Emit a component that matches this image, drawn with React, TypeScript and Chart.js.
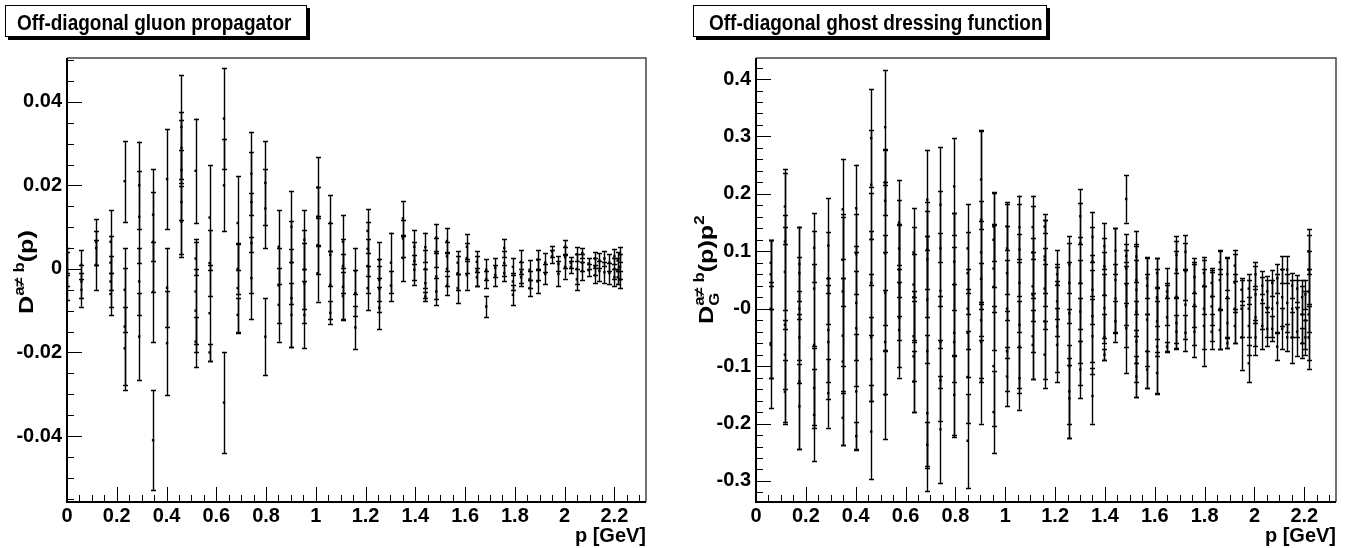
import React, { useEffect, useRef } from 'react';
import { Chart, registerables } from 'chart.js';

Chart.register(...registerables);

const FONT = "'Liberation Sans', Arial, Helvetica, sans-serif";

// ---------- axis ticks ----------
const xTickValues = [0, 0.2, 0.4, 0.6, 0.8, 1, 1.2, 1.4, 1.6, 1.8, 2, 2.2];
const xTickLabels = ['0', '0.2', '0.4', '0.6', '0.8', '1', '1.2', '1.4', '1.6', '1.8', '2', '2.2'];
const gluonYTickValues = [-0.04, -0.02, 0, 0.02, 0.04];
const gluonYTickLabels = ['-0.04', '-0.02', '0', '0.02', '0.04'];
const ghostYTickValues = [-0.3, -0.2, -0.1, 0, 0.1, 0.2, 0.3, 0.4];
const ghostYTickLabels = ['-0.3', '-0.2', '-0.1', '-0', '0.1', '0.2', '0.3', '0.4'];

// ---------- off-diagonal gluon propagator ----------
const gluonMomenta = [
  0, 0.058, 0.117, 0.175, 0.232, 0.29, 0.346, 0.402, 0.46, 0.517, 0.573, 0.631, 0.686, 0.741,
  0.797, 0.851, 0.902, 0.954, 1.007, 1.058, 1.109, 1.159, 1.208, 1.255, 1.302, 1.35, 1.396,
  1.44, 1.484, 1.527, 1.57, 1.607, 1.647, 1.685, 1.721, 1.757, 1.792, 1.825, 1.859, 1.891,
  1.922, 1.949, 1.975, 2.002, 2.025, 2.049, 2.071, 2.096, 2.122, 2.14, 2.16, 2.18, 2.2, 2.213, 2.223,
];
const gluonValues = [
  [0.0, -0.0045, 0.002],
  [0.001, -0.003, -0.005],
  [0.0065, 0.005, 0.001],
  [0.0065, 0.0015, -0.003, -0.006],
  [0.021, -0.005, -0.0138, -0.019],
  [0.02, 0.0125, -0.003, -0.0162],
  [0.013, 0.0065, -0.0055, -0.041],
  [0.0215, -0.0045, -0.0178],
  [0.034, 0.029, 0.0237, 0.016, 0.0113],
  [0.0235, 0.0025, -0.0054, -0.01, -0.0174],
  [0.0123, 0.0014, -0.0106, -0.02],
  [0.036, 0.02, -0.032],
  [0.011, 0.0, -0.0046, -0.011],
  [0.0228, 0.016, 0.0062, -0.0022],
  [0.0206, 0.0145, -0.0162],
  [0.0053, -0.004, -0.0086],
  [0.0101, 0.0015, -0.007, -0.011],
  [0.007, -0.0002, -0.0034, -0.011],
  [0.0195, 0.0125, 0.0057, -0.001],
  [0.011, 0.0034, -0.0038, -0.0105],
  [0.0065, 0.0007, -0.0043, -0.0065],
  [-0.0005, -0.0058, -0.014],
  [0.0091, 0.0048, 0.0007, -0.0046],
  [0.0022, -0.0026, -0.0048, -0.0093],
  [0.0015, -0.004],
  [0.0121, 0.0073, 0.0026],
  [0.0053, 0.0019, -0.0002],
  [0.0052, 0.0, -0.0034, -0.0066],
  [0.0075, 0.0039, -0.0018, -0.0054],
  [0.0067, 0.003, 0.0, -0.004],
  [0.0015, -0.001, -0.0046],
  [0.0053, 0.0026, -0.0015],
  [0.0017, -0.0005, -0.002],
  [-0.0002, -0.0025, -0.009],
  [0.0003, -0.0015],
  [0.005, 0.0014, -0.001],
  [0.0005, -0.003, -0.0062],
  [0.0017, -0.0008, -0.002],
  [-0.0002, -0.0025, -0.0046],
  [0.0022, -0.0002, -0.003],
  [0.0015, -0.0012],
  [0.0042, 0.003],
  [0.0012, -0.0012],
  [0.0053, 0.0028, 0.0005],
  [0.0015, 0.0005],
  [0.0035, 0.0, -0.0025],
  [0.0038, 0.0015, -0.0005],
  [0.0013, -0.0003],
  [0.0025, 0.0005, -0.0015],
  [0.002, -0.0005],
  [0.0025, -0.0008],
  [0.0015, -0.001],
  [0.003, 0.0, -0.002],
  [0.002, -0.0005, -0.002],
  [0.0035, 0.0005, -0.0025],
];
const gluonErrors = [
  [0.004, 0.003, 0.003],
  [0.0035, 0.004, 0.004],
  [0.0055, 0.004, 0.006],
  [0.0075, 0.0065, 0.006, 0.005],
  [0.0097, 0.01, 0.014, 0.01],
  [0.0105, 0.011, 0.008, 0.0104],
  [0.011, 0.012, 0.012, 0.012],
  [0.012, 0.0095, 0.0125],
  [0.0125, 0.0085, 0.012, 0.0125, 0.0085],
  [0.0125, 0.004, 0.0125, 0.01, 0.006],
  [0.0125, 0.008, 0.0115, 0.002],
  [0.012, 0.011, 0.012],
  [0.0112, 0.006, 0.0107, 0.004],
  [0.0099, 0.012, 0.012, 0.0098],
  [0.01, 0.0095, 0.0092],
  [0.0088, 0.009, 0.0088],
  [0.0085, 0.01, 0.0118, 0.0076],
  [0.007, 0.0095, 0.0095, 0.008],
  [0.0072, 0.007, 0.007, 0.0068],
  [0.0067, 0.0075, 0.0082, 0.0028],
  [0.0063, 0.0065, 0.0078, 0.0057],
  [0.0055, 0.0055, 0.0052],
  [0.0052, 0.0065, 0.0065, 0.0052],
  [0.0043, 0.005, 0.0055, 0.005],
  [0.0072, 0.0036],
  [0.0042, 0.0045, 0.0056],
  [0.004, 0.0045, 0.0036],
  [0.0035, 0.0045, 0.0035, 0.001],
  [0.0033, 0.0035, 0.0055, 0.0032],
  [0.003, 0.0035, 0.004, 0.0022],
  [0.0028, 0.004, 0.0035],
  [0.003, 0.0035, 0.0035],
  [0.0025, 0.0035, 0.0022],
  [0.0025, 0.002, 0.0026],
  [0.0023, 0.0025],
  [0.0022, 0.003, 0.002],
  [0.002, 0.002, 0.0024],
  [0.0028, 0.0025, 0.002],
  [0.0024, 0.002, 0.002],
  [0.0023, 0.0025, 0.0027],
  [0.0023, 0.0025],
  [0.0013, 0.0015],
  [0.0018, 0.003],
  [0.0017, 0.0025, 0.0028],
  [0.0013, 0.0015],
  [0.0017, 0.0035, 0.0025],
  [0.0012, 0.002, 0.0022],
  [0.0012, 0.0015],
  [0.0016, 0.002, 0.0018],
  [0.0017, 0.0025],
  [0.0017, 0.0025],
  [0.002, 0.0025],
  [0.0017, 0.0025, 0.002],
  [0.002, 0.003, 0.0015],
  [0.0018, 0.003, 0.002],
];

// ---------- off-diagonal ghost dressing function ----------
const ghostMomenta = [
  0.059, 0.116, 0.174, 0.233, 0.29, 0.348, 0.402, 0.462, 0.518, 0.574, 0.632, 0.687, 0.74,
  0.795, 0.849, 0.903, 0.953, 1.007, 1.057, 1.11, 1.158, 1.208, 1.257, 1.301, 1.35, 1.398,
  1.442, 1.485, 1.526, 1.569, 1.609, 1.649, 1.687, 1.723, 1.759, 1.797, 1.828, 1.861, 1.891,
  1.921, 1.948, 1.977, 2.004, 2.031, 2.051, 2.071, 2.091, 2.111, 2.131, 2.151, 2.171, 2.191,
  2.204, 2.217,
];
const ghostValues = [
  [0.06, 0.0, -0.06, -0.063, 0.08],
  [0.178, 0.117, 0.064, -0.028, -0.08, -0.145],
  [0.078, 0.062, 0.0, -0.05, -0.127, -0.17],
  [0.106, 0.035, -0.063, -0.138, -0.185],
  [0.11, 0.053, -0.037, -0.058, -0.147],
  [0.173, 0.085, 0.03, -0.047, -0.092, -0.19],
  [0.175, 0.095, 0.01, -0.034, -0.144, -0.222],
  [0.297, 0.216, 0.121, 0.045, -0.05, -0.088, -0.214],
  [0.316, 0.22, 0.188, 0.096, 0.028, -0.058, -0.15],
  [0.15, 0.105, 0.068, 0.045, -0.016, -0.037],
  [0.098, 0.042, 0.02, -0.048, -0.083, -0.127],
  [0.19, 0.103, 0.086, 0.016, -0.074, -0.182, -0.237],
  [0.181, 0.105, 0.031, -0.058, -0.125, -0.21],
  [0.213, 0.082, 0.042, -0.042, -0.058, -0.15],
  [0.105, 0.062, 0.0, -0.042, -0.119, -0.23],
  [0.225, 0.155, 0.098, 0.052, -0.02, -0.058, -0.127],
  [0.143, 0.12, 0.07, 0.038, -0.1, -0.18],
  [0.143, 0.105, 0.062, 0.0, -0.074, -0.118],
  [0.142, 0.103, 0.045, -0.028, -0.066, -0.121],
  [0.142, 0.098, 0.039, 0.024, -0.048, -0.063],
  [0.143, 0.091, 0.085, 0.035, -0.022, -0.08],
  [0.06, 0.042, 0.013, -0.031, -0.063],
  [0.077, 0.045, -0.008, -0.1, -0.144, -0.156],
  [0.161, 0.114, 0.045, -0.005, -0.057, -0.106],
  [0.125, 0.082, 0.033, -0.013, -0.048, -0.152],
  [0.109, 0.074, 0.024, 0.001, -0.049, -0.08],
  [0.101, 0.05, 0.018, -0.022],
  [0.191, 0.092, 0.07, 0.042, 0.004, -0.034],
  [0.091, 0.05, 0.033, -0.005, -0.057, -0.095, -0.118],
  [0.053, 0.04, -0.019, -0.074, -0.106],
  [0.062, 0.02, 0.018, -0.022, -0.066, -0.112],
  [0.03, 0.021, -0.015, -0.066],
  [0.094, 0.068, 0.021, -0.025, -0.04],
  [0.099, 0.065, 0.007, -0.042],
  [0.055, 0.028, 0.007, -0.04],
  [0.062, 0.04, 0.0, -0.03],
  [0.045, 0.021, 0.004, -0.04],
  [0.081, 0.05, 0.0, -0.037],
  [0.06, 0.02, -0.025, -0.06],
  [0.075, 0.045, 0.0, -0.03],
  [0.033, 0.0, -0.05],
  [0.035, 0.0, -0.03, -0.095],
  [0.06, 0.025, -0.015, -0.05],
  [0.04, 0.015, -0.03],
  [0.03, 0.0, -0.035],
  [0.045, 0.0, -0.035],
  [0.053, 0.01, -0.066],
  [0.068, 0.02, -0.035],
  [0.068, 0.01, -0.05],
  [0.04, 0.0, -0.05],
  [0.035, 0.0, -0.04],
  [0.02, -0.01, -0.06],
  [0.025, -0.02, -0.05],
  [0.1, 0.068, 0.03, -0.01, -0.05],
];
const ghostErrors = [
  [0.06, 0.12, 0.06, 0.11, 0.04],
  [0.065, 0.12, 0.1, 0.17, 0.06, 0.055],
  [0.065, 0.08, 0.09, 0.08, 0.117, 0.074],
  [0.06, 0.1, 0.14, 0.07, 0.08],
  [0.082, 0.08, 0.09, 0.1, 0.06],
  [0.087, 0.08, 0.13, 0.1, 0.145, 0.047],
  [0.076, 0.07, 0.1, 0.1, 0.1, 0.024],
  [0.085, 0.095, 0.08, 0.09, 0.11, 0.073, 0.082],
  [0.1, 0.057, 0.09, 0.125, 0.1, 0.09, 0.077],
  [0.074, 0.085, 0.08, 0.1, 0.085, 0.083],
  [0.078, 0.1, 0.075, 0.078, 0.097, 0.053],
  [0.087, 0.068, 0.1, 0.11, 0.2, 0.136, 0.04],
  [0.1, 0.1, 0.1, 0.08, 0.07, 0.093],
  [0.084, 0.085, 0.125, 0.085, 0.165, 0.07],
  [0.077, 0.072, 0.07, 0.077, 0.08, 0.082],
  [0.086, 0.155, 0.09, 0.1, 0.1, 0.07, 0.073],
  [0.06, 0.082, 0.075, 0.11, 0.105, 0.072],
  [0.04, 0.08, 0.082, 0.085, 0.07, 0.052],
  [0.055, 0.08, 0.085, 0.11, 0.08, 0.055],
  [0.055, 0.08, 0.06, 0.1, 0.075, 0.06],
  [0.012, 0.064, 0.08, 0.07, 0.1, 0.058],
  [0.018, 0.06, 0.06, 0.08, 0.064],
  [0.05, 0.07, 0.09, 0.1, 0.081, 0.07],
  [0.048, 0.07, 0.08, 0.09, 0.075, 0.05],
  [0.043, 0.06, 0.06, 0.08, 0.065, 0.048],
  [0.04, 0.05, 0.075, 0.06, 0.04, 0.01],
  [0.04, 0.09, 0.06, 0.036],
  [0.041, 0.01, 0.06, 0.07, 0.07, 0.078],
  [0.044, 0.06, 0.08, 0.09, 0.07, 0.058, 0.035],
  [0.035, 0.05, 0.08, 0.064, 0.032],
  [0.026, 0.05, 0.07, 0.06, 0.08, 0.036],
  [0.012, 0.05, 0.06, 0.008],
  [0.032, 0.05, 0.08, 0.045, 0.029],
  [0.03, 0.05, 0.06, 0.031],
  [0.027, 0.06, 0.07, 0.044],
  [0.023, 0.05, 0.07, 0.07],
  [0.022, 0.05, 0.06, 0.03],
  [0.021, 0.05, 0.07, 0.034],
  [0.028, 0.07, 0.044, 0.009],
  [0.027, 0.05, 0.06, 0.03],
  [0.02, 0.05, 0.056],
  [0.026, 0.05, 0.05, 0.032],
  [0.021, 0.05, 0.05, 0.03],
  [0.015, 0.05, 0.04],
  [0.027, 0.05, 0.03],
  [0.023, 0.05, 0.022],
  [0.025, 0.05, 0.023],
  [0.023, 0.05, 0.036],
  [0.023, 0.05, 0.024],
  [0.022, 0.05, 0.045],
  [0.024, 0.05, 0.043],
  [0.03, 0.05, 0.026],
  [0.025, 0.05, 0.03],
  [0.039, 0.06, 0.07, 0.08, 0.055],
];

type Pt = { x: number; y: number };

function flatten(momenta: number[], values: number[][], errors: number[][]) {
  const pts: Pt[] = [];
  const errs: number[] = [];
  momenta.forEach((p, i) => {
    values[i].forEach((v, j) => {
      pts.push({ x: p, y: v });
      errs.push(errors[i][j]);
    });
  });
  return { pts, errs };
}

const errorBarPlugin = {
  id: 'errorBars',
  beforeDatasetsDraw(chart: any) {
    const { ctx, chartArea: ca } = chart;
    const xs = chart.scales.x;
    const ys = chart.scales.y;
    ctx.save();
    ctx.beginPath();
    ctx.rect(ca.left, ca.top, ca.right - ca.left, ca.bottom - ca.top);
    ctx.clip();
    ctx.strokeStyle = '#000';
    ctx.lineWidth = 1.4;
    chart.data.datasets.forEach((ds: any) => {
      const errs: number[] = ds.errors;
      if (!errs) return;
      ds.data.forEach((pt: Pt, i: number) => {
        const e = errs[i];
        const px = Math.round(xs.getPixelForValue(pt.x)) + 0.5;
        const top = ys.getPixelForValue(pt.y + e);
        const bot = ys.getPixelForValue(pt.y - e);
        ctx.beginPath();
        ctx.moveTo(px, top);
        ctx.lineTo(px, bot);
        ctx.moveTo(px - 2.5, Math.round(top) + 0.5);
        ctx.lineTo(px + 2.5, Math.round(top) + 0.5);
        ctx.moveTo(px - 2.5, Math.round(bot) + 0.5);
        ctx.lineTo(px + 2.5, Math.round(bot) + 0.5);
        ctx.stroke();
      });
    });
    ctx.restore();
  },
};

type TitlePart = { t: string; size: number; dy: number; sub?: string };

const rootStylePlugin = {
  id: 'rootStyle',
  afterDraw(chart: any, _args: any, opts: any) {
    const { ctx, chartArea: ca } = chart;
    const xs = chart.scales.x;
    const ys = chart.scales.y;
    ctx.save();
    ctx.strokeStyle = '#000';
    ctx.lineWidth = 1;
    const xTick = (v: number, len: number) => {
      const px = Math.round(xs.getPixelForValue(v)) + 0.5;
      ctx.beginPath();
      ctx.moveTo(px, ca.bottom);
      ctx.lineTo(px, ca.bottom - len);
      ctx.stroke();
    };
    const yTick = (v: number, len: number) => {
      const py = Math.round(ys.getPixelForValue(v)) + 0.5;
      ctx.beginPath();
      ctx.moveTo(ca.left, py);
      ctx.lineTo(ca.left + len, py);
      ctx.stroke();
    };
    const xs0 = Math.ceil(xs.min / opts.xMinor - 1e-6);
    const xs1 = Math.floor(xs.max / opts.xMinor + 1e-6);
    for (let k = xs0; k <= xs1; k++) xTick(k * opts.xMinor, 7);
    xTickValues.forEach((v) => xTick(v, 15));
    const ys0 = Math.ceil(ys.min / opts.yMinor - 1e-6);
    const ys1 = Math.floor(ys.max / opts.yMinor + 1e-6);
    for (let k = ys0; k <= ys1; k++) yTick(k * opts.yMinor, 7);
    (opts.yMajor as number[]).forEach((v) => yTick(v, 15));

    // frame
    ctx.strokeStyle = '#444';
    ctx.lineWidth = 1.5;
    ctx.beginPath();
    ctx.moveTo(ca.left, ca.top);
    ctx.lineTo(ca.right, ca.top);
    ctx.lineTo(ca.right, ca.bottom);
    ctx.stroke();
    ctx.strokeStyle = '#000';
    ctx.lineWidth = 2;
    ctx.beginPath();
    ctx.moveTo(ca.left, ca.top);
    ctx.lineTo(ca.left, ca.bottom);
    ctx.lineTo(ca.right, ca.bottom);
    ctx.stroke();

    // title box with shadow
    const b = opts.box;
    ctx.fillStyle = '#000';
    ctx.fillRect(b.x + 3, b.y + 3, b.w, b.h);
    ctx.fillStyle = '#fff';
    ctx.fillRect(b.x, b.y, b.w, b.h);
    ctx.strokeStyle = '#000';
    ctx.lineWidth = 1;
    ctx.strokeRect(b.x + 0.5, b.y + 0.5, b.w - 1, b.h - 1);
    ctx.fillStyle = '#000';
    ctx.textBaseline = 'alphabetic';
    ctx.textAlign = 'left';
    ctx.font = `bold 19px ${FONT}`;
    ctx.save();
    ctx.translate(b.tx, b.ty);
    ctx.scale(1, 1.16);
    ctx.fillText(opts.title, 0, 0);
    ctx.restore();

    // rotated y title
    ctx.save();
    ctx.translate(opts.yTitleX, opts.yTitleY);
    ctx.rotate(-Math.PI / 2);
    ctx.scale(1.2, 1);
    let x = 0;
    (opts.yTitle as TitlePart[]).forEach((p) => {
      ctx.font = `bold ${p.size}px ${FONT}`;
      ctx.fillText(p.t, x, p.dy);
      let w = ctx.measureText(p.t).width;
      if (p.sub) {
        ctx.fillText(p.sub, x, 6);
        w = Math.max(w, ctx.measureText(p.sub).width);
      }
      x += w;
    });
    ctx.restore();
    ctx.restore();
  },
};

Chart.register(errorBarPlugin, rootStylePlugin);

type PanelProps = {
  left: number;
  momenta: number[];
  values: number[][];
  errors: number[][];
  yMin: number;
  yMax: number;
  yTicks: number[];
  yLabels: string[];
  yMinor: number;
  yAxisWidth: number;
  padRight: number;
  title: string;
  box: { x: number; y: number; w: number; h: number; tx: number; ty: number };
  yTitle: TitlePart[];
  yTitleX: number;
  yTitleY: number;
};

function Panel(props: PanelProps) {
  const ref = useRef<HTMLCanvasElement | null>(null);
  useEffect(() => {
    if (!ref.current) return;
    const { pts, errs } = flatten(props.momenta, props.values, props.errors);
    const tickFont = { family: FONT, size: 20, weight: 'bold' as const };
    const chart = new Chart(ref.current, {
      type: 'scatter',
      data: {
        datasets: [
          {
            data: pts,
            errors: errs,
            pointRadius: 1.7,
            pointStyle: 'rect',
            pointBackgroundColor: '#000',
            pointBorderWidth: 0,
            showLine: false,
          } as any,
        ],
      },
      options: {
        responsive: false,
        animation: false,
        events: [],
        layout: { padding: { left: 0, right: props.padRight, top: 58, bottom: 0 } },
        plugins: {
          legend: { display: false },
          tooltip: { enabled: false },
          rootStyle: {
            xMinor: 0.05,
            yMinor: props.yMinor,
            yMajor: props.yTicks,
            title: props.title,
            box: props.box,
            yTitle: props.yTitle,
            yTitleX: props.yTitleX,
            yTitleY: props.yTitleY,
          },
        } as any,
        scales: {
          x: {
            type: 'linear',
            min: 0,
            max: 2.327,
            afterBuildTicks: (s: any) => {
              s.ticks = xTickValues.map((v) => ({ value: v }));
            },
            afterFit: (s: any) => {
              s.height = 46;
            },
            grid: { display: false, drawTicks: false },
            border: { display: false },
            ticks: {
              callback: (_v: any, i: number) => xTickLabels[i],
              font: tickFont,
              color: '#000',
              padding: 2,
              autoSkip: false,
              maxRotation: 0,
            },
            title: {
              display: true,
              text: 'p [GeV]',
              align: 'end',
              color: '#000',
              font: { family: FONT, size: 20, weight: 'bold' },
              padding: { top: 0, bottom: 0 },
            },
          },
          y: {
            type: 'linear',
            min: props.yMin,
            max: props.yMax,
            afterBuildTicks: (s: any) => {
              s.ticks = props.yTicks.map((v) => ({ value: v }));
            },
            afterFit: (s: any) => {
              s.width = props.yAxisWidth;
            },
            grid: { display: false, drawTicks: false },
            border: { display: false },
            ticks: {
              callback: (_v: any, i: number) => props.yLabels[i],
              font: tickFont,
              color: '#000',
              padding: 5,
              autoSkip: false,
            },
          },
        },
      } as any,
    });
    return () => chart.destroy();
  }, []);
  return (
    <canvas
      ref={ref}
      width={677}
      height={548}
      style={{ position: 'absolute', left: props.left, top: 0, width: 677, height: 548 }}
    />
  );
}

export default function App() {
  return (
    <div
      style={{
        position: 'fixed',
        left: 0,
        top: 0,
        width: 1354,
        height: 548,
        background: '#fff',
        overflow: 'hidden',
      }}
    >
      <Panel
        left={0}
        momenta={gluonMomenta}
        values={gluonValues}
        errors={gluonErrors}
        yMin={-0.0558}
        yMax={0.0505}
        yTicks={gluonYTickValues}
        yLabels={gluonYTickLabels}
        yMinor={0.005}
        yAxisWidth={67}
        padRight={31}
        title="Off-diagonal gluon propagator"
        box={{ x: 5, y: 5, w: 302, h: 32, tx: 17, ty: 30 }}
        yTitle={[
          { t: 'D', size: 21, dy: 0 },
          { t: 'a≠ b', size: 14, dy: -9 },
          { t: '(p)', size: 21, dy: 0 },
        ]}
        yTitleX={33}
        yTitleY={314}
      />
      <Panel
        left={677}
        momenta={ghostMomenta}
        values={ghostValues}
        errors={ghostErrors}
        yMin={-0.3366}
        yMax={0.4366}
        yTicks={ghostYTickValues}
        yLabels={ghostYTickLabels}
        yMinor={0.02}
        yAxisWidth={79}
        padRight={18}
        title="Off-diagonal ghost dressing function"
        box={{ x: 16, y: 5, w: 354, h: 32, tx: 32, ty: 30 }}
        yTitle={[
          { t: 'D', size: 21, dy: 0 },
          { t: 'a≠ b', size: 14, dy: -9, sub: 'G' },
          { t: '(p)p', size: 21, dy: 0 },
          { t: '2', size: 14, dy: -9 },
        ]}
        yTitleX={36}
        yTitleY={324}
      />
    </div>
  );
}
